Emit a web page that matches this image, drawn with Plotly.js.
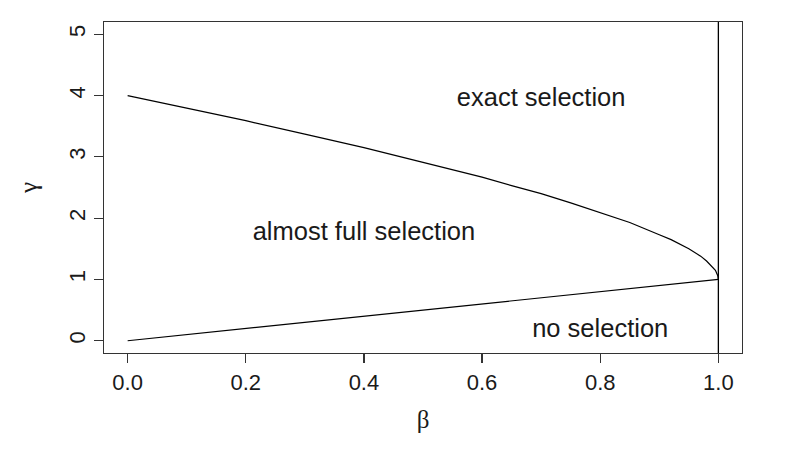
<!DOCTYPE html>
<html>
<head>
<meta charset="utf-8">
<script src="https://cdn.plot.ly/plotly-3.0.1.min.js"></script>
<style>
	html, body {margin: 0; padding: 0; background: #fff;}
	#chart {width: 785px; height: 458px;}
</style>
</head>
<body>
<div id="chart"></div>
<script>
// upper boundary (exact selection / almost full selection)
const betaUpper = [0, 0.1, 0.2, 0.3, 0.4, 0.5, 0.55, 0.6, 0.65, 0.7, 0.75, 0.8, 0.85, 0.9, 0.92, 0.95, 0.96, 0.97, 0.98, 0.99, 0.995, 0.999, 1.0];
const gammaUpper = [4.0, 3.8, 3.59, 3.37, 3.15, 2.91, 2.79, 2.67, 2.53, 2.4, 2.25, 2.09, 1.93, 1.73, 1.65, 1.5, 1.44, 1.38, 1.3, 1.21, 1.15, 1.06, 1.0];

// lower boundary (almost full selection / no selection)
const betaLower = [0, 1];
const gammaLower = [0, 1];

const regionLabels = ['exact selection', 'almost full selection', 'no selection'];
const labelBeta = [0.7, 0.4, 0.8];
const labelGamma = [3.93, 1.75, 0.16];

const xTicks = [0, 0.2, 0.4, 0.6, 0.8, 1.0];
const xTickText = ['0.0', '0.2', '0.4', '0.6', '0.8', '1.0'];
const yTicks = [0, 1, 2, 3, 4, 5];

const sans = 'Liberation Sans, Arial, Helvetica, sans-serif';
const serif = 'Liberation Serif, Times New Roman, serif';

const data = [
	{
		x: betaUpper, y: gammaUpper,
		type: 'scatter', mode: 'lines',
		line: {color: '#000', width: 1.2},
		hoverinfo: 'skip'
	},
	{
		x: betaLower, y: gammaLower,
		type: 'scatter', mode: 'lines',
		line: {color: '#000', width: 1.2},
		hoverinfo: 'skip'
	},
	{
		x: labelBeta, y: labelGamma, text: regionLabels,
		type: 'scatter', mode: 'text',
		textposition: 'middle center',
		textfont: {family: sans, size: 25.5, color: '#1a1a1a'},
		hoverinfo: 'skip'
	}
];

const axisStyle = {
	showline: true, mirror: true, linecolor: '#333', linewidth: 1.3,
	ticks: 'outside', ticklen: 9, tickwidth: 1.2, tickcolor: '#333',
	showgrid: false, zeroline: false,
	tickfont: {family: sans, size: 22, color: '#1a1a1a'}
};

const layout = {
	width: 785, height: 458,
	margin: {l: 104, r: 43, t: 22, b: 105},
	showlegend: false,
	paper_bgcolor: '#fff', plot_bgcolor: '#fff',
	xaxis: Object.assign({}, axisStyle, {
		range: [-0.04, 1.04],
		tickvals: xTicks, ticktext: xTickText,
		title: {text: 'β', font: {family: serif, size: 25, color: '#1a1a1a'}, standoff: 16}
	}),
	yaxis: Object.assign({}, axisStyle, {
		range: [-0.2, 5.2],
		tickvals: yTicks, tickangle: -90,
		title: {text: 'γ', font: {family: serif, size: 25, color: '#1a1a1a'}, standoff: 20}
	}),
	shapes: [{
		type: 'line', xref: 'x', yref: 'paper',
		x0: 1, x1: 1, y0: 0, y1: 1,
		line: {color: '#000', width: 1.3}
	}]
};

Plotly.newPlot('chart', data, layout, {staticPlot: true});
</script>
</body>
</html>
